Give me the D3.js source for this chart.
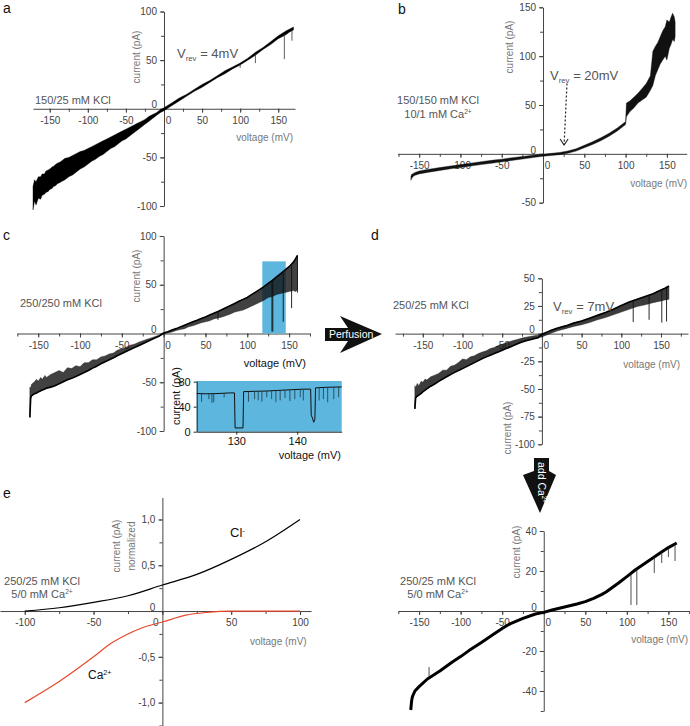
<!DOCTYPE html>
<html>
<head>
<meta charset="utf-8">
<script src="https://cdn.jsdelivr.net/npm/d3@7"></script>
<style>
  body { margin: 0; background: #fff; }
</style>
</head>
<body>
<div id="chart"></div>
<script>
// ---------- data ----------
// panel a : 150/25 mM KCl, noisy I-V trace (lower / upper envelope)
const aV  = [-172,-170,-168,-165,-162,-160,-157,-155,-152,-150,-147,-145,-142,-140,-137,-135,-130,-125,-120,-115,-110,-105,-100,-95,-90,-85,-80,-75,-70,-65,-60,-55,-50,-45,-40,-35,-30,-25,-20,-15,-10,-5,0,10,20,30,40,50,60,70,80,90,100,110,120,130,140,150,160,165,170];
const aLo = [-104,-95,-99,-92,-93,-89,-88,-86,-85,-83,-82,-80,-79,-77,-76,-75,-73,-70,-68,-65,-62,-60,-57,-54,-52,-49,-47,-44,-41,-39,-36,-33,-31,-28,-25,-22,-19,-16,-13,-10,-7,-4,-2,3,8,13,18,22,27,32,36,41,45,50,55,61,66,72,76,79,81];
const aHi = [-80,-73,-75,-70,-70,-67,-67,-64,-63,-62,-60,-59,-57,-56,-55,-54,-51,-50,-48,-46,-44,-43,-41,-39,-37,-35,-33,-31,-29,-27,-25,-23,-21,-19,-17,-15,-13,-11,-8,-6,-4,-1,1,6,11,15,20,25,29,34,39,43,47,52,58,63,69,75,80,82,84];
const aSpikeV = [100, 120, 158, 168];
const aSpikeI = [42, 47, 51, 70];

// panel b : 150/150 mM KCl, 10/1 mM Ca2+
const bV  = [-160,-159,-157,-155,-150,-140,-125,-110,-100,-90,-75,-60,-50,-40,-25,-10,0,10,20,30,40,50,60,70,80,90,100,101,105,110,115,120,125,130,133,136,139,142,145,148,150,153,155,157,159,160];
const bLo = [-27,-25,-23,-22,-20.5,-19,-17,-15,-14,-12.8,-11,-9.4,-8.2,-7,-5.3,-3.6,-2.5,-1.7,-0.8,0.6,2.8,6.2,9.6,13.5,18,23.5,30,38,43,47,52,55,58,65,70,80,86,92,96,100,96,108,112,117,115,120];
const bHi = [-23,-21,-20,-19,-17.5,-16,-14,-12.2,-11,-9.8,-8,-6.4,-5.4,-4.2,-2.7,-1.2,-0.3,0.5,1.4,3,5.2,8.8,12.4,16.5,21,26.5,33,52,54,58,62,67,72,80,105,110,114,120,126,130,137,135,140,144,140,135];

// panel c : 250/250 mM KCl
const cV  = [-160,-159,-158,-155,-152,-150,-147,-145,-142,-140,-135,-130,-125,-120,-115,-110,-105,-100,-95,-90,-85,-80,-75,-70,-65,-60,-55,-50,-45,-40,-35,-30,-25,-20,-15,-10,-5,0,5,10,15,20,25,30,35,40,45,50,55,60,65,70,75,80,85,90,95,100,105,110,115,120,125,130,135,140,145,150,155,158,160];
const cLo = [-86,-66,-64,-62,-61,-60,-58.8,-58,-57,-56,-55,-53.5,-51.5,-49.5,-47.5,-46,-44,-42,-40,-38,-35.5,-33.5,-31,-29,-27,-25,-22.5,-20.5,-18.5,-16.5,-14.5,-12.5,-10.5,-8.5,-6.5,-4.5,-2.5,-0.5,0.5,1.5,3,4,5,7,8,9.5,11,12,13,15,16,17,18.5,20,22,23,24,26,28,30,32,34,37,38,40,41,42,43,44,43,45];
const cHi = [-55,-56,-52,-50,-47,-49,-45,-47,-43,-45,-42,-40,-38,-40,-35,-36,-33,-34,-30,-30,-27,-27,-24,-23,-21,-20,-17,-16,-14,-12,-11,-9,-7.5,-6,-4.5,-3,-1.5,0.5,1.8,3.5,5,6.8,8.5,10.2,12,13.5,15.3,17,19,20.8,22.6,24.6,26.7,28.7,30.8,33,35,37,39.8,42.5,45.3,48,51.4,54.5,58,61.5,65,68.5,73,77,80];
const cSpikeV = [65, 129.5, 130.5, 143, 153, 160];
const cSpikeI = [14, 2, 2, 12, 26, 42];
const cZoomV = [118, 146];      // highlighted range
const cZoomI = [0, 74];

// inset of panel c (130-140 mV detail)
const insV = [123.5,125,127,129,129.7,129.8,131.1,131.2,133,135,137,139,141,142.2,142.3,142.5,142.7,142.9,143.0,145,147.3];
const insI = [61,60.5,61,62,62,6,6,64,64.5,65,66,67,68,68,26,22,15,20,70,71,71.5];
const insSpikeV = [124.3,125.5,126,126.3,128,132,133,133.6,134.2,135,135.8,136.5,137.2,138,138.8,139.6,140.5,141,143.6,144.3,145,146,146.8];
const insSpikeI = [48,52,46,47,55,48,52,50,48,55,52,47,50,54,49,52,55,50,50,52,47,52,55];

// panel d : 250/25 mM KCl after perfusion
const dV  = [-160,-159,-157,-155,-152,-150,-147,-145,-140,-135,-130,-125,-120,-115,-110,-105,-100,-95,-90,-85,-80,-75,-70,-65,-60,-55,-50,-45,-40,-35,-30,-25,-20,-15,-10,-5,0,10,20,30,40,50,60,70,80,90,100,110,120,130,140,150,155,160];
const dLo = [-68,-58,-56.5,-55.5,-54,-52.7,-51,-50,-47.5,-45.5,-43.2,-41,-39,-37,-35,-33.3,-31.6,-29.8,-28,-26.2,-24.4,-22.6,-21,-19.5,-18,-16.5,-15,-13.5,-12,-10.5,-9,-7.6,-6.5,-5.5,-4.6,-3.8,-3,0,2.5,4.5,6.5,8,10,12.5,14.5,17,19.5,22,24.5,26,28,29.5,30.5,31];
const dHi = [-47,-49,-45,-47,-43,-44,-41,-42,-39,-37.5,-36,-33,-33,-29.5,-28.5,-26,-23,-23.5,-21,-20,-18,-16.6,-15.5,-13.5,-12.5,-10.8,-9.5,-8.2,-7,-6,-5,-4,-3.2,-2.6,-2,-1.4,-0.5,2.5,5,7,9.5,11.5,14,16.5,19,22,25.5,28.5,31,33.5,36,39.5,41,43];
const dSpikeV = [115, 135, 151, 157];
const dSpikeI = [10.5, 12.5, 10, 11];

// panel e : normalized Cl- and Ca2+ currents
const eClV = [-100,-75,-50,-25,0,25,50,75,100];
const eCl  = [0,0.036,0.095,0.167,0.284,0.40,0.564,0.757,1.0];
const eCaV = [-100,-75,-50,-37,-25,-16,0,17,32,50,75,100];
const eCa  = [-1,-0.77,-0.5,-0.35,-0.25,-0.19,-0.12,-0.045,-0.015,0,0,0];

// panel f : 250/25 mM KCl + 5/0 mM Ca2+
const fV = [-160,-159,-158,-155,-150,-140,-125,-110,-100,-90,-75,-60,-50,-40,-25,-10,0,10,25,40,50,60,70,75,80,90,100,110,125,140,150,160];
const fI = [-49.5,-45,-42.8,-40,-37.8,-34,-30,-25.5,-22.8,-19.8,-15.7,-11.5,-8.7,-6.3,-3.7,-1.5,-0.7,0.5,2,3.5,4.7,6.3,8.3,9.5,11,14,17.2,20.5,24.7,29,31.7,34];
const fSpikeV = [-138, 105, 112, 133, 142, 150, 158];
const fSpikeI = [-28, 3, 3, 19, 24, 27, 25];

// tick labels
const mvTicks = [-150,-100,-50,0,50,100,150];
const aYTicks = [-100,-50,0,50,100];
const bYTicks = [-50,0,50,100,150];
const dYTicks = [-100,-75,-50,-25,0,25,50];
const eXTicks = [-100,-50,0,50,100];
const eYTicks = [-1,-0.5,0,0.5,1];
const fYTicks = [-40,-20,0,20,40];

// ---------- drawing ----------
const FONT = "'Liberation Sans', Arial, Helvetica, sans-serif";
const svg = d3.select("#chart").append("svg")
  .attr("width", 690).attr("height", 726)
  .style("font-family", FONT);

function drawAxes(x, y, o) {
  const gx1 = svg.append("g").attr("transform", `translate(0,${y(0)})`)
    .call(d3.axisBottom(x).tickValues(o.xMinor).tickSize(3).tickSizeOuter(0).tickFormat(""));
  const gx2 = svg.append("g").attr("transform", `translate(0,${y(0)})`)
    .call(d3.axisBottom(x).tickValues(o.xTicks).tickSize(4).tickFormat(o.fmtX || String));
  gx2.select(".domain").remove();
  const gy1 = svg.append("g").attr("transform", `translate(${x(0)},0)`)
    .call(d3.axisLeft(y).tickValues(o.yMinor).tickSize(3).tickSizeOuter(0).tickFormat(""));
  const gy2 = svg.append("g").attr("transform", `translate(${x(0)},0)`)
    .call(d3.axisLeft(y).tickValues(o.yTicks).tickSize(4).tickFormat(o.fmtY || String));
  gy2.select(".domain").remove();
  [gx1, gx2, gy1, gy2].forEach(g => {
    g.attr("font-family", FONT).attr("font-size", o.fs || 10);
    g.selectAll("path, line").attr("stroke", o.axisColor || "#444");
    g.selectAll("text").attr("fill", o.textColor || "#444");
  });
  gx2.selectAll(".tick text").attr("y", 8).filter(d => d === 0).attr("dx", o.x0dx == null ? 4 : o.x0dx);
  gy2.selectAll(".tick text").filter(d => d === 0).attr("dy", "-0.08em");
}

function label(x, y, parts, o = {}) {
  const size = o.size || 11;
  const t = svg.append("text").attr("x", x).attr("y", y)
    .attr("font-size", size).attr("fill", o.color || "#555")
    .attr("text-anchor", o.anchor || "start");
  if (o.rotate) t.attr("transform", `rotate(${o.rotate},${x},${y})`);
  if (typeof parts === "string") parts = [[parts]];
  let shift = 0;
  parts.forEach(([s, k]) => {
    const ts = t.append("tspan").text(s);
    const want = k === "sub" ? 3 : k === "sup" ? -4 : 0;
    ts.attr("dy", want - shift);
    shift = want;
    if (k) ts.attr("font-size", size * 0.6);
  });
  return t;
}

function band(x, y, V, lo, hi, fill, opacity) {
  const area = d3.area()
    .x((d, i) => x(V[i])).y0((d, i) => y(lo[i])).y1((d, i) => y(hi[i]));
  svg.append("path").datum(V).attr("d", area)
    .attr("fill", fill).attr("fill-opacity", opacity == null ? 1 : opacity)
    .attr("stroke", fill).attr("stroke-width", 0.4);
}

function trace(x, y, V, I, color, width) {
  const line = d3.line().x((d, i) => x(V[i])).y((d, i) => y(I[i]));
  svg.append("path").datum(V).attr("d", line)
    .attr("fill", "none").attr("stroke", color).attr("stroke-width", width)
    .attr("stroke-linejoin", "round");
}

function spikes(x, y, V, I, sv, si, color, width) {
  const base = d3.scaleLinear().domain(V).range(I);
  svg.append("g").selectAll("line").data(sv).join("line")
    .attr("x1", d => x(d)).attr("x2", d => x(d))
    .attr("y1", d => y(base(d))).attr("y2", (d, i) => y(si[i]))
    .attr("stroke", color).attr("stroke-width", width || 0.8);
}

const step = (a, b, s) => d3.range(a, b + s / 2, s);

// ---- panel a ----
{
  const x = d3.scaleLinear([-172, 172], [33, 295]);
  const y = d3.scaleLinear([-100, 100], [206, 11.5]);
  drawAxes(x, y, { xTicks: mvTicks, xMinor: step(-150, 150, 25), yTicks: aYTicks, yMinor: step(-100, 100, 25) });
  band(x, y, aV, aLo, aHi, "#000");
  const mid = aV.map((v, i) => (aLo[i] + aHi[i]) / 2);
  spikes(x, y, aV, mid, aSpikeV, aSpikeI, "#333", 0.8);
  label(3, 13, "a", { size: 14, color: "#111" });
  label(177, 58, [["V"], ["rev", "sub"], [" = 4mV"]], { size: 13, color: "#555" });
  label(35, 104, "150/25 mM KCl", { size: 11, color: "#555" });
  label(140, 57, "current (pA)", { size: 10, color: "#777", anchor: "middle", rotate: -90 });
  label(293, 141, "voltage (mV)", { size: 10, color: "#777", anchor: "end" });
}

// ---- panel b ----
{
  const x = d3.scaleLinear([-176, 174], [397.7, 686.7]);
  const y = d3.scaleLinear([-50, 150], [202.7, 7.3]);
  drawAxes(x, y, { xTicks: mvTicks, xMinor: step(-175, 150, 25), yTicks: bYTicks, yMinor: step(-50, 150, 25) });
  band(x, y, bV, bLo, bHi, "#111");
  label(398, 14, "b", { size: 14, color: "#111" });
  label(550, 80, [["V"], ["rev", "sub"], [" = 20mV"]], { size: 13, color: "#555" });
  label(438, 104, "150/150 mM KCl", { size: 11, color: "#555", anchor: "middle" });
  label(438, 118, [["10/1 mM Ca"], ["2+", "sup"]], { size: 11, color: "#555", anchor: "middle" });
  label(512.5, 47, "current (pA)", { size: 10, color: "#777", anchor: "middle", rotate: -90 });
  label(687, 187, "voltage (mV)", { size: 10, color: "#777", anchor: "end" });
  // dotted arrow pointing at the reversal potential
  svg.append("line")
    .attr("x1", x(29)).attr("y1", y(72)).attr("x2", x(25.5)).attr("y2", y(9))
    .attr("stroke", "#222").attr("stroke-width", 1.2).attr("stroke-dasharray", "2,2");
  svg.append("path")
    .attr("d", `M${x(25.5) - 4},${y(9) - 6} L${x(25.5)},${y(9)} L${x(25.5) + 4},${y(9) - 6}`)
    .attr("fill", "none").attr("stroke", "#222").attr("stroke-width", 1.1);
}

// ---- panel c ----
{
  const x = d3.scaleLinear([-175, 175], [17.3, 310]);
  const y = d3.scaleLinear([-100, 100], [431, 236]);
  drawAxes(x, y, { xTicks: mvTicks, xMinor: step(-175, 175, 25), yTicks: aYTicks, yMinor: step(-100, 100, 25) });
  svg.append("rect")
    .attr("x", x(cZoomV[0])).attr("y", y(cZoomI[1]))
    .attr("width", x(cZoomV[1]) - x(cZoomV[0])).attr("height", y(cZoomI[0]) - y(cZoomI[1]))
    .attr("fill", "#5cb6dd");
  band(x, y, cV, cLo, cHi, "#111", 0.8);
  const edge = cV.map((v, i) => v < 0 ? cLo[i] : cHi[i]);
  trace(x, y, cV, edge, "#000", 1.6);
  spikes(x, y, cV, cHi, cSpikeV, cSpikeI, "#111", 0.9);
  label(3, 240, "c", { size: 14, color: "#111" });
  label(20, 307, "250/250 mM KCl", { size: 11, color: "#555" });
  label(140, 276, "current (pA)", { size: 10, color: "#777", anchor: "middle", rotate: -90 });
  label(306, 367, "voltage (mV)", { size: 11, color: "#111", anchor: "end" });

  // inset
  const ix = d3.scaleLinear([123.5, 147.3], [196.7, 341.7]);
  const iy = d3.scaleLinear([0, 81], [431.7, 381]);
  svg.append("rect").attr("x", 196.7).attr("y", 381).attr("width", 145).attr("height", 50.7).attr("fill", "#5cb6dd");
  trace(ix, iy, insV, insI, "#111", 1);
  spikes(ix, iy, insV, insI, insSpikeV, insSpikeI, "#1d3a4a", 0.8);
  const gy = svg.append("g").attr("transform", "translate(196.7,0)")
    .call(d3.axisLeft(iy).tickValues([0, 40, 80]).tickSize(3).tickSizeOuter(0));
  const gx = svg.append("g").attr("transform", "translate(0,431.7)")
    .call(d3.axisBottom(ix).tickValues([130, 140]).tickSize(3).tickSizeOuter(0));
  [gx, gy].forEach(g => {
    g.attr("font-family", FONT).attr("font-size", 11);
    g.selectAll("path, line").attr("stroke", "#222");
    g.selectAll("text").attr("fill", "#111");
  });
  label(180, 396, "current (pA)", { size: 11, color: "#111", anchor: "middle", rotate: -90 });
  label(341, 459, "voltage (mV)", { size: 11, color: "#111", anchor: "end" });
}

// ---- Perfusion arrow ----
svg.append("path")
  .attr("d", "M325,328 H348 L340,316 L382,334 L340,353 L348,341 H325 Z")
  .attr("fill", "#111");
label(329, 338, "Perfusion", { size: 10.5, color: "#fff" });

// ---- panel d ----
{
  const x = d3.scaleLinear([-185, 184], [395, 688]);
  const y = d3.scaleLinear([-100, 50], [444.3, 278.3]);
  drawAxes(x, y, { xTicks: mvTicks, xMinor: step(-175, 175, 25), yTicks: dYTicks, yMinor: step(-100, 50, 12.5) });
  band(x, y, dV, dLo, dHi, "#111", 0.82);
  const edge = dV.map((v, i) => v < 0 ? dLo[i] : dHi[i]);
  trace(x, y, dV, edge, "#000", 1.6);
  spikes(x, y, dV, dHi, dSpikeV, dSpikeI, "#111", 0.9);
  label(371, 240, "d", { size: 14, color: "#111" });
  label(553, 311, [["V"], ["rev", "sub"], [" = 7mV"]], { size: 13, color: "#555" });
  label(393, 309, "250/25 mM KCl", { size: 11, color: "#555" });
  label(511, 428, "current (pA)", { size: 10, color: "#777", anchor: "middle", rotate: -90 });
  label(680, 368, "voltage (mV)", { size: 10, color: "#777", anchor: "end" });
}

// ---- add Ca2+ arrow ----
svg.append("path")
  .attr("d", "M534,458 H549 V471 L556,475 L540,513 L523,475 L534,471 Z")
  .attr("fill", "#111");
label(538, 462, [["add Ca"], ["2+", "sup"]], { size: 10.5, color: "#fff", rotate: 90 });

// ---- panel e ----
{
  const x = d3.scaleLinear([-118, 108], [0, 311]);
  const y = d3.scaleLinear([-1.25, 1.24], [725.5, 497.5]);
  const fmt = d => d === 0 ? "0" : d.toFixed(1).replace(".", ",");
  drawAxes(x, y, {
    xTicks: eXTicks, xMinor: step(-100, 100, 25), yTicks: eYTicks, yMinor: step(-1.25, 1, 0.25),
    fmtY: fmt, x0dx: -7
  });
  const curve = d3.curveMonotoneX;
  svg.append("path").datum(eClV)
    .attr("d", d3.line().curve(curve).x(d => x(d)).y((d, i) => y(eCl[i])))
    .attr("fill", "none").attr("stroke", "#000").attr("stroke-width", 1.2);
  svg.append("path").datum(eCaV)
    .attr("d", d3.line().curve(curve).x(d => x(d)).y((d, i) => y(eCa[i])))
    .attr("fill", "none").attr("stroke", "#e8472a").attr("stroke-width", 1.2);
  label(3, 498, "e", { size: 14, color: "#111" });
  label(230, 537, [["Cl"], ["-", "sup"]], { size: 13, color: "#111" });
  label(88, 679, [["Ca"], ["2+", "sup"]], { size: 12, color: "#111" });
  label(42, 585, "250/25 mM KCl", { size: 11, color: "#555", anchor: "middle" });
  label(42, 598, [["5/0 mM Ca"], ["2+", "sup"]], { size: 11, color: "#555", anchor: "middle" });
  label(120, 546, "current (pA)", { size: 10, color: "#777", anchor: "middle", rotate: -90 });
  label(135, 546, "normalized", { size: 10, color: "#777", anchor: "middle", rotate: -90 });
  label(306.7, 645, "voltage (mV)", { size: 10, color: "#777", anchor: "end" });
}

// ---- panel f ----
{
  const x = d3.scaleLinear([-175, 176], [398.3, 690]);
  const y = d3.scaleLinear([-50, 40], [711, 531]);
  drawAxes(x, y, { xTicks: mvTicks, xMinor: step(-175, 175, 25), yTicks: fYTicks, yMinor: step(-50, 40, 10) });
  trace(x, y, fV, fI, "#000", 3);
  spikes(x, y, fV, fI, fSpikeV, fSpikeI, "#222", 0.8);
  label(438, 585, "250/25 mM KCl", { size: 11, color: "#555", anchor: "middle" });
  label(438, 598, [["5/0 mM Ca"], ["2+", "sup"]], { size: 11, color: "#555", anchor: "middle" });
  label(519.5, 552, "current (pA)", { size: 10, color: "#777", anchor: "middle", rotate: -90 });
  label(688, 643, "voltage (mV)", { size: 10, color: "#777", anchor: "end" });
}
</script>
</body>
</html>
